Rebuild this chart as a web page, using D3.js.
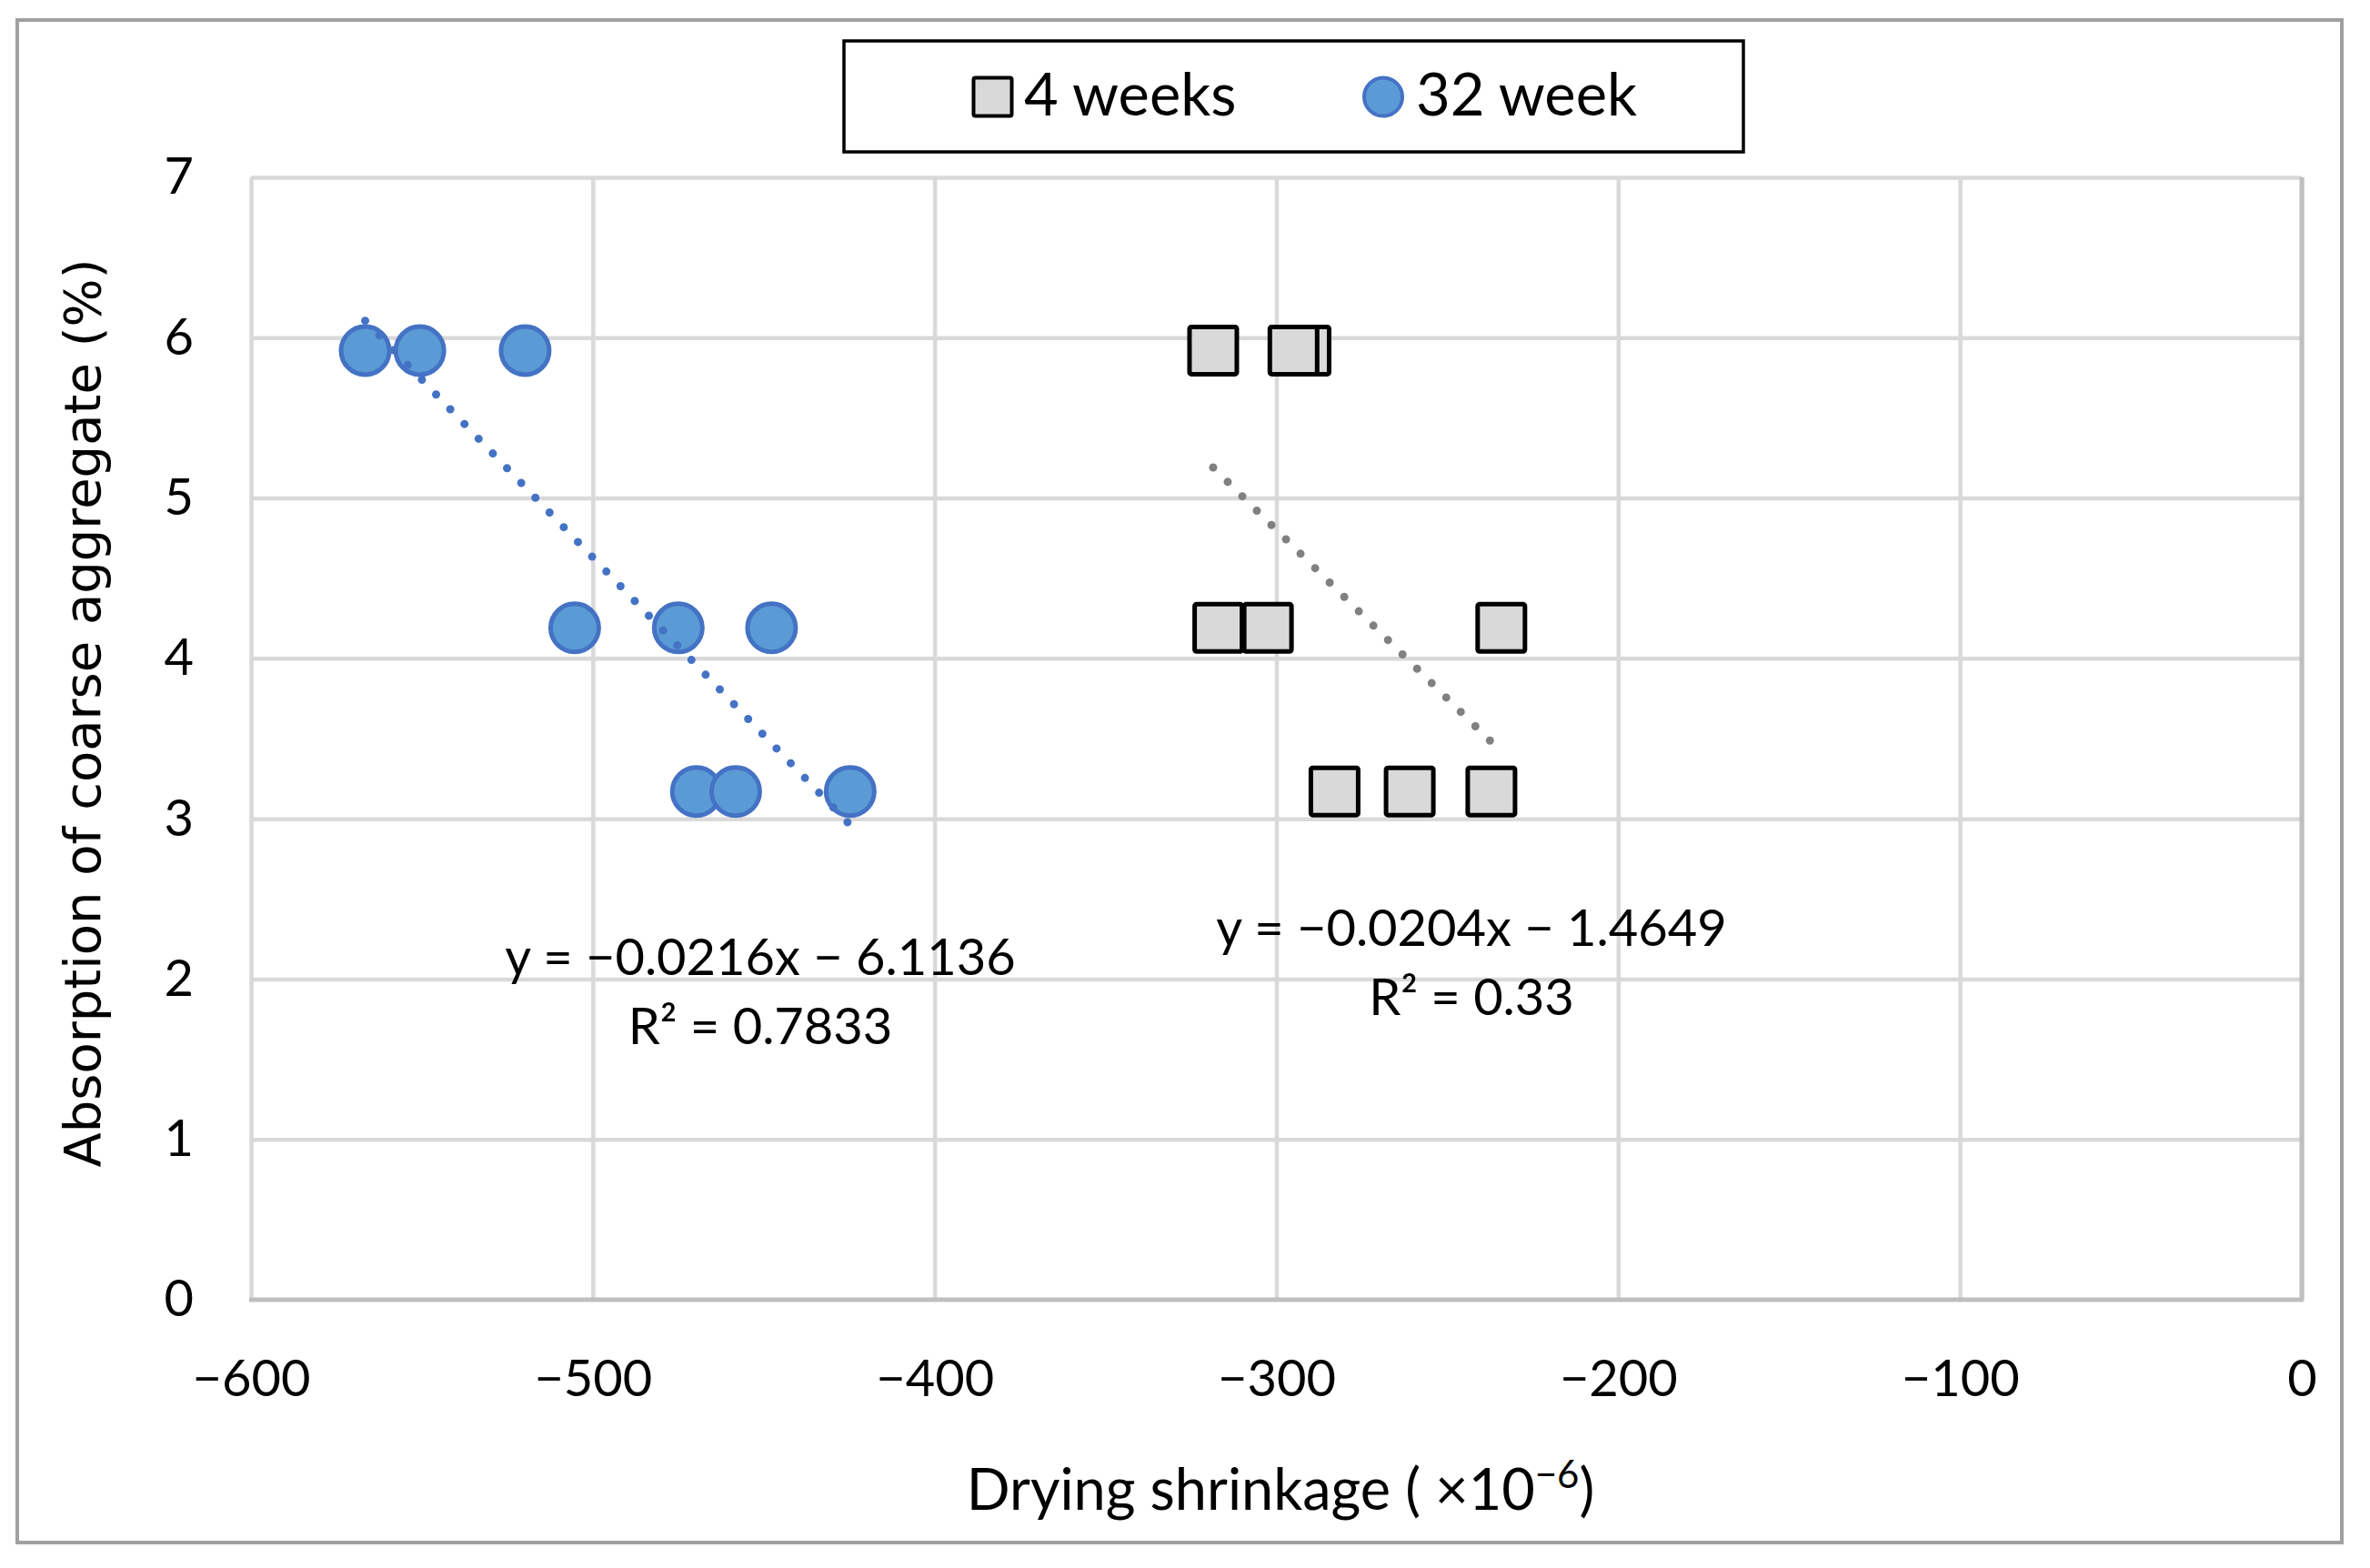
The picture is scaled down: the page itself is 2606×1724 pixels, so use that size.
<!DOCTYPE html>
<html>
<head>
<meta charset="utf-8">
<script src="https://cdnjs.cloudflare.com/ajax/libs/d3/7.8.5/d3.min.js"></script>
<style>
  body { margin: 0; background: #fff; }
  text { fill: #000; }
</style>
</head>
<body>
<div id="chart"></div>
<script>
// data
var weeks4X = [-318.5, -291.5, -295.0, -317.0, -302.5, -234.2, -283.0, -261.0, -237.1];
var weeks4Y = [5.92, 5.92, 5.92, 4.19, 4.19, 4.19, 3.17, 3.17, 3.17];
var weeks32X = [-566.6, -550.6, -519.8, -505.3, -475.0, -447.7, -469.7, -458.2, -424.7];
var weeks32Y = [5.92, 5.92, 5.92, 4.19, 4.19, 4.19, 3.17, 3.17, 3.17];

var xTicks = [-600, -500, -400, -300, -200, -100, 0];
var yTicks = [0, 1, 2, 3, 4, 5, 6, 7];
var seriesNames = ["4 weeks", "32 week"];
var eq4 = ["y = \u22120.0204x \u2212 1.4649", "R\u00b2 = 0.33"];
var eq32 = ["y = \u22120.0216x \u2212 6.1136", "R\u00b2 = 0.7833"];

var svgWidth = 2606;
var svgHeight = 1724;
var margin = { top: 195, right: 75, bottom: 295, left: 276 };
var width = svgWidth - margin.left - margin.right;
var height = svgHeight - margin.top - margin.bottom;

var mainFont = "Lato, 'Open Sans', sans-serif";

var svg = d3.select("#chart")
  .append("svg")
  .attr("width", svgWidth)
  .attr("height", svgHeight)
  .style("font-family", mainFont);

svg.append("rect")
  .attr("width", svgWidth).attr("height", svgHeight)
  .attr("fill", "#fff");

// outer frame
svg.append("rect")
  .attr("x", 19).attr("y", 22)
  .attr("width", 2556).attr("height", 1674)
  .attr("fill", "none")
  .attr("stroke", "#a0a0a0")
  .attr("stroke-width", 4);

var chartGroup = svg.append("g")
  .attr("transform", `translate(${margin.left}, ${margin.top})`);

var x = d3.scaleLinear().domain([-600, 0]).range([0, width]);
var y = d3.scaleLinear().domain([0, 7]).range([height, 0]);

// gridlines
chartGroup.append("g")
  .call(d3.axisBottom(x).tickValues(xTicks).tickSize(height).tickFormat(""))
  .call(g => g.select(".domain").remove())
  .call(g => g.selectAll("line").attr("stroke", "#d9d9d9").attr("stroke-width", 4.5));

chartGroup.append("g")
  .call(d3.axisLeft(y).tickValues(yTicks.slice(1)).tickSize(-width).tickFormat(""))
  .call(g => g.select(".domain").remove())
  .call(g => g.selectAll("line").attr("stroke", "#d9d9d9").attr("stroke-width", 4.5));

// axis lines (horizontal at y=0, vertical at x=0)
chartGroup.append("line")
  .attr("x1", x(-600) - 2).attr("x2", x(0) + 2)
  .attr("y1", y(0)).attr("y2", y(0))
  .attr("stroke", "#bfbfbf").attr("stroke-width", 5);
chartGroup.append("line")
  .attr("x1", x(0)).attr("x2", x(0))
  .attr("y1", y(7)).attr("y2", y(0))
  .attr("stroke", "#bfbfbf").attr("stroke-width", 5);

// tick labels
var xAxis = chartGroup.append("g")
  .attr("transform", `translate(0, ${height})`)
  .call(d3.axisBottom(x).tickValues(xTicks).tickSize(0).tickPadding(66).tickFormat(d3.format("d")));
xAxis.select(".domain").remove();
xAxis.selectAll("text")
  .style("font-family", mainFont)
  .style("font-size", "56px")
  .attr("fill", "#000");

var yAxis = chartGroup.append("g")
  .attr("transform", "translate(-63, 0)")
  .call(d3.axisLeft(y).tickValues(yTicks).tickSize(0).tickPadding(0).tickFormat(d3.format("d")));
yAxis.select(".domain").remove();
yAxis.selectAll("text")
  .style("font-family", mainFont)
  .style("font-size", "56px")
  .attr("fill", "#000");

// least squares fit, like the excel trendline
function fit(xs, ys) {
  var mx = d3.mean(xs), my = d3.mean(ys);
  var sxy = 0, sxx = 0;
  xs.forEach(function(v, i) {
    sxy += (v - mx) * (ys[i] - my);
    sxx += (v - mx) * (v - mx);
  });
  var m = sxy / sxx;
  return { m: m, b: my - m * mx };
}

function trend(xs, ys, color) {
  var f = fit(xs, ys);
  var x0 = d3.min(xs), x1 = d3.max(xs);
  chartGroup.append("path")
    .attr("d", d3.line()([[x(x0), y(f.m * x0 + f.b)], [x(x1), y(f.m * x1 + f.b)]]))
    .attr("fill", "none")
    .attr("stroke", color)
    .attr("stroke-width", 9)
    .attr("stroke-linecap", "round")
    .attr("stroke-dasharray", "0 22.5");
}

var data4 = weeks4X.map((v, i) => ({ x: v, y: weeks4Y[i] }));
var data32 = weeks32X.map((v, i) => ({ x: v, y: weeks32Y[i] }));

var side = 52;
chartGroup.append("g").selectAll("rect")
  .data(data4)
  .enter()
  .append("rect")
  .attr("x", d => x(d.x) - side / 2)
  .attr("y", d => y(d.y) - side / 2)
  .attr("width", side)
  .attr("height", side)
  .attr("rx", 2)
  .attr("fill", "#d9d9d9")
  .attr("stroke", "#000")
  .attr("stroke-width", 5);

chartGroup.append("g").selectAll("circle")
  .data(data32)
  .enter()
  .append("circle")
  .attr("cx", d => x(d.x))
  .attr("cy", d => y(d.y))
  .attr("r", 26.5)
  .attr("fill", "#5b9bd5")
  .attr("stroke", "#4472c4")
  .attr("stroke-width", 5);

trend(weeks32X, weeks32Y, "#4472c4");
trend(weeks4X, weeks4Y, "#808080");

// trendline labels
function eqLabel(lines, cx, by) {
  lines.forEach(function(t, i) {
    svg.append("text")
      .attr("x", cx).attr("y", by + i * 76)
      .attr("text-anchor", "middle")
      .style("font-size", "56px")
      .text(t);
  });
}
eqLabel(eq32, 836, 1072);
eqLabel(eq4, 1618, 1040);

// axis titles
var xTitle = svg.append("text")
  .attr("x", 1408).attr("y", 1660)
  .attr("text-anchor", "middle")
  .style("font-size", "63px");
xTitle.append("tspan").text("Drying shrinkage ( \u00d710");
xTitle.append("tspan").attr("dy", -24).style("font-size", "42px").text("\u22126");
xTitle.append("tspan").attr("dy", 24).text(")");

svg.append("text")
  .attr("transform", "translate(110, 784) rotate(-90)")
  .attr("text-anchor", "middle")
  .style("font-family", "'DejaVu Sans', Verdana, sans-serif")
  .style("font-size", "56px")
  .text("Absorption of coarse aggregate (%)");

// legend
var legend = svg.append("g");
legend.append("rect")
  .attr("x", 928).attr("y", 45)
  .attr("width", 989).attr("height", 122)
  .attr("fill", "#fff")
  .attr("stroke", "#000")
  .attr("stroke-width", 3.5);
legend.append("rect")
  .attr("x", 1091.5 - 21).attr("y", 106.5 - 21)
  .attr("width", 42).attr("height", 42)
  .attr("rx", 2)
  .attr("fill", "#d9d9d9")
  .attr("stroke", "#000")
  .attr("stroke-width", 4);
legend.append("text")
  .attr("x", 1126).attr("y", 127)
  .style("font-size", "65px")
  .text(seriesNames[0]);
legend.append("circle")
  .attr("cx", 1521).attr("cy", 106.5)
  .attr("r", 21)
  .attr("fill", "#5b9bd5")
  .attr("stroke", "#4472c4")
  .attr("stroke-width", 4);
legend.append("text")
  .attr("x", 1557).attr("y", 127)
  .style("font-size", "65px")
  .text(seriesNames[1]);
</script>
</body>
</html>
